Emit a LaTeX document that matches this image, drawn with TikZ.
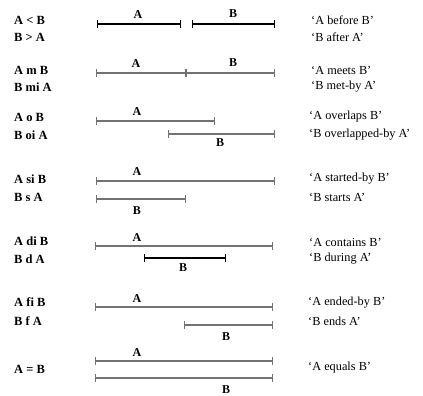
\documentclass[tikz,border=0pt]{standalone}
\usepackage{fontspec}
\setmainfont{Liberation Serif}
\usetikzlibrary{arrows.meta}
\begin{document}
\begin{tikzpicture}[x=1pt,y=-1pt,
  rel/.style={anchor=west,font=\fontsize{12.5}{14}\selectfont\bfseries,inner sep=0pt},
  desc/.style={anchor=west,font=\fontsize{12.3}{14}\selectfont,inner sep=0pt},
  lab/.style={font=\fontsize{12}{14}\selectfont\bfseries,inner sep=0pt},
  ivdark/.style={line width=1.3pt,black,{Bar[width=8pt,line width=1.3pt]}-{Bar[width=8pt,line width=1.3pt]}},
  ivgray/.style={line width=1.3pt,black!55,{Bar[width=8pt,line width=1pt]}-{Bar[width=8pt,line width=1pt]}}]
\useasboundingbox (0,0) rectangle (423,396);
% left relation labels
\node[rel] (r1a) at (14,20) {A < B};
\node[rel] (r1b) at (14,37) {B > A};
\node[rel] (r2a) at (14,70) {A m B};
\node[rel] (r2b) at (14,87) {B mi A};
\node[rel] (r3a) at (14,117) {A o B};
\node[rel] (r3b) at (14,135) {B oi A};
\node[rel] (r4a) at (14,179) {A si B};
\node[rel] (r4b) at (14,197) {B s A};
\node[rel] (r5a) at (14,241) {A di B};
\node[rel] (r5b) at (14,259) {B d A};
\node[rel] (r6a) at (14,302) {A fi B};
\node[rel] (r6b) at (14,321) {B f A};
\node[rel] (r7a) at (14,369) {A = B};
% right descriptions
\node[desc] (d1a) at (311,20) {`A before B'};
\node[desc] (d1b) at (311,37) {`B after A'};
\node[desc] (d2a) at (311,70) {`A meets B'};
\node[desc] (d2b) at (311,87) {`B met-by A'};
\node[desc] (d3a) at (309,117) {`A overlaps B'};
\node[desc] (d3b) at (309,135) {`B overlapped-by A'};
\node[desc] (d4a) at (309,179) {`A started-by B'};
\node[desc] (d4b) at (309,197) {`B starts A'};
\node[desc] (d5a) at (309,242) {`A contains B'};
\node[desc] (d5b) at (309,259) {`B during A'};
\node[desc] (d6a) at (308,303) {`A ended-by B'};
\node[desc] (d6b) at (308,321) {`B ends A'};
\node[desc] (d7a) at (308,368) {`A equals B'};
% row 1: before
\coordinate (a1s) at (97,24); \coordinate (a1e) at (181,24);
\coordinate (b1s) at (192,24); \coordinate (b1e) at (275,24);
\draw[ivdark] (a1s) -- (a1e);
\draw[ivdark] (b1s) -- (b1e);
\node[lab] (la1) at (138,15) {A};
\node[lab] (lb1) at (233,14) {B};
% row 2: meets
\coordinate (a2s) at (96,73); \coordinate (a2e) at (186,73);
\coordinate (b2e) at (275,73);
\draw[ivgray] (a2s) -- (a2e);
\draw[ivgray] (a2e) -- (b2e);
\node[lab] (la2) at (136,64) {A};
\node[lab] (lb2) at (233,63) {B};
% row 3: overlaps
\coordinate (a3s) at (96,121); \coordinate (a3e) at (215,121);
\coordinate (b3s) at (168,134); \coordinate (b3e) at (275,134);
\draw[ivgray] (a3s) -- (a3e);
\draw[ivgray] (b3s) -- (b3e);
\node[lab] (la3) at (137,112) {A};
\node[lab] (lb3) at (220,143) {B};
% row 4: started-by
\coordinate (a4s) at (96,181); \coordinate (a4e) at (275,181);
\coordinate (b4s) at (96,199); \coordinate (b4e) at (186,199);
\draw[ivgray] (a4s) -- (a4e);
\draw[ivgray] (b4s) -- (b4e);
\node[lab] (la4) at (137,172) {A};
\node[lab] (lb4) at (137,211) {B};
% row 5: contains
\coordinate (a5s) at (95,246); \coordinate (a5e) at (273,246);
\coordinate (b5s) at (144,258); \coordinate (b5e) at (226,258);
\draw[ivgray] (a5s) -- (a5e);
\draw[ivdark] (b5s) -- (b5e);
\node[lab] (la5) at (137,238) {A};
\node[lab] (lb5) at (183,268) {B};
% row 6: ended-by
\coordinate (a6s) at (95,307); \coordinate (a6e) at (273,307);
\coordinate (b6s) at (184,325); \coordinate (b6e) at (273,325);
\draw[ivgray] (a6s) -- (a6e);
\draw[ivgray] (b6s) -- (b6e);
\node[lab] (la6) at (137,299) {A};
\node[lab] (lb6) at (226,337) {B};
% row 7: equals
\coordinate (a7s) at (95,361); \coordinate (a7e) at (273,361);
\coordinate (b7s) at (95,378); \coordinate (b7e) at (273,378);
\draw[ivgray] (a7s) -- (a7e);
\draw[ivgray] (b7s) -- (b7e);
\node[lab] (la7) at (137,353) {A};
\node[lab] (lb7) at (226,390) {B};
\end{tikzpicture}
\end{document}
